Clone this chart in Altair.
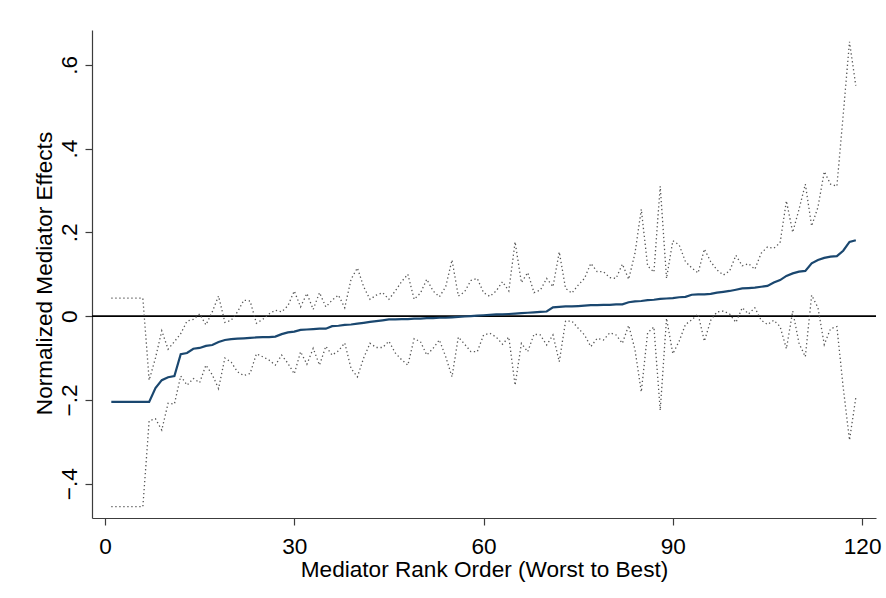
import altair as alt
import pandas as pd

# Mediators ranked from worst to best
rank = list(range(1, 120))

# Normalized mediator effect (point estimate)
effect = [
    -0.205, -0.205, -0.205, -0.205, -0.205, -0.205, -0.205, -0.172, -0.153, -0.146,
    -0.143, -0.091, -0.088, -0.078, -0.076, -0.071, -0.069, -0.062, -0.057, -0.055,
    -0.054, -0.053, -0.052, -0.051, -0.050, -0.050, -0.049, -0.043, -0.039, -0.037,
    -0.033, -0.032, -0.031, -0.030, -0.030, -0.024, -0.023, -0.021, -0.020, -0.018,
    -0.016, -0.014, -0.012, -0.010, -0.008, -0.008, -0.007, -0.007, -0.006, -0.006,
    -0.005, -0.005, -0.004, -0.004, -0.003, -0.002, -0.001, 0.000, 0.001, 0.002,
    0.003, 0.004, 0.004, 0.005, 0.006, 0.007, 0.008, 0.009, 0.010, 0.011,
    0.021, 0.022, 0.023, 0.023, 0.024, 0.025, 0.026, 0.026, 0.027, 0.027,
    0.028, 0.028, 0.033, 0.035, 0.036, 0.038, 0.039, 0.041, 0.042, 0.043,
    0.045, 0.046, 0.051, 0.052, 0.052, 0.053, 0.056, 0.058, 0.060, 0.063,
    0.066, 0.067, 0.068, 0.070, 0.072, 0.080, 0.086, 0.096, 0.102, 0.106,
    0.108, 0.126, 0.134, 0.139, 0.142, 0.143, 0.156, 0.177, 0.181,
]

# Upper confidence bound
upper = [
    0.043, 0.043, 0.043, 0.043, 0.043, 0.043, -0.153, -0.100, -0.035, -0.079,
    -0.061, -0.042, -0.012, -0.008, 0.005, -0.021, 0.010, 0.048, -0.015, -0.010,
    0.010, 0.038, 0.036, -0.017, -0.008, 0.005, 0.014, 0.010, 0.025, 0.060,
    0.022, 0.054, 0.016, 0.056, 0.022, 0.038, 0.050, 0.020, 0.088, 0.115,
    0.070, 0.040, 0.050, 0.056, 0.040, 0.060, 0.082, 0.100, 0.040, 0.055,
    0.088, 0.060, 0.046, 0.070, 0.134, 0.048, 0.058, 0.085, 0.090, 0.056,
    0.047, 0.060, 0.082, 0.060, 0.177, 0.080, 0.104, 0.056, 0.062, 0.090,
    0.070, 0.153, 0.066, 0.055, 0.074, 0.090, 0.126, 0.106, 0.106, 0.092,
    0.090, 0.124, 0.088, 0.150, 0.255, 0.120, 0.105, 0.310, 0.090, 0.180,
    0.170, 0.130, 0.115, 0.103, 0.160, 0.130, 0.110, 0.098, 0.108, 0.145,
    0.120, 0.125, 0.112, 0.150, 0.165, 0.162, 0.175, 0.275, 0.200, 0.255,
    0.315, 0.215, 0.260, 0.345, 0.315, 0.310, 0.480, 0.655, 0.550,
]

# Lower confidence bound
lower = [
    -0.455, -0.455, -0.455, -0.455, -0.455, -0.455, -0.250, -0.245, -0.272, -0.208,
    -0.210, -0.143, -0.165, -0.149, -0.159, -0.117, -0.140, -0.173, -0.100, -0.110,
    -0.133, -0.142, -0.137, -0.090, -0.097, -0.105, -0.117, -0.093, -0.113, -0.138,
    -0.085, -0.115, -0.077, -0.117, -0.072, -0.093, -0.083, -0.064, -0.125, -0.145,
    -0.100, -0.065, -0.075, -0.075, -0.060, -0.088, -0.104, -0.117, -0.054, -0.061,
    -0.093, -0.077, -0.057, -0.097, -0.145, -0.050, -0.067, -0.085, -0.085, -0.045,
    -0.041, -0.050, -0.067, -0.050, -0.165, -0.065, -0.085, -0.043, -0.045, -0.069,
    -0.045, -0.109, -0.012, -0.012, -0.029, -0.045, -0.073, -0.053, -0.057, -0.040,
    -0.045, -0.065, -0.022, -0.080, -0.181, -0.040, -0.026, -0.225, -0.005, -0.090,
    -0.060, -0.020, -0.009, 0.005, -0.060, -0.010, 0.010, 0.012, 0.005, -0.015,
    0.020, 0.005, 0.020, -0.010, -0.020, -0.010, -0.025, -0.078, 0.012, -0.065,
    -0.097, 0.050, 0.020, -0.068, -0.030, -0.025, -0.170, -0.296, -0.195,
]

x_ticks = [0, 30, 60, 90, 120]
y_ticks = [-0.4, -0.2, 0, 0.2, 0.4, 0.6]

df = pd.DataFrame({"rank": rank, "effect": effect, "upper": upper, "lower": lower})

FONT = "Liberation Sans"
FONT_SIZE = 22.6
AXIS_COLOR = "#3c3c3c"

x_scale = alt.Scale(domain=[-2.06, 122.2], nice=False, zero=False)
y_scale = alt.Scale(domain=[-0.482, 0.683], nice=False, zero=False)

x_axis = alt.Axis(
    values=x_ticks,
    title="Mediator Rank Order (Worst to Best)",
    grid=False,
    labelFlush=False,
    labelOverlap=False,
    tickSize=7,
    tickWidth=1.2,
    domainWidth=1.2,
    labelPadding=10,
    labelFontSize=FONT_SIZE,
    titleFontSize=FONT_SIZE,
    titleFontWeight="normal",
    titleX=392,
    titleY=58,
    titleAlign="center",
    titleBaseline="alphabetic",
)

y_axis = alt.Axis(
    values=y_ticks,
    labelExpr="datum.value == 0 ? '0' : replace(format(datum.value, '.1f'), '0.', '.')",
    title="Normalized Mediator Effects",
    grid=False,
    labelFlush=False,
    labelOverlap=False,
    labelAngle=270,
    labelAlign="center",
    labelBaseline="alphabetic",
    labelPadding=9,
    tickSize=7,
    tickWidth=1.2,
    domainWidth=1.2,
    labelFontSize=FONT_SIZE,
    titleFontSize=FONT_SIZE,
    titleFontWeight="normal",
    titleAngle=270,
    titleX=-41,
    titleY=243,
    titleAlign="center",
    titleBaseline="alphabetic",
)

x_enc = alt.X("rank:Q", scale=x_scale, axis=x_axis)

base = alt.Chart(df)

# Horizontal reference line at zero
zero_line = base.mark_rule(color="black", strokeWidth=1.6).encode(
    y=alt.Y("zero:Q", scale=y_scale, axis=y_axis)
).transform_aggregate(n="count()").transform_calculate(zero="0")

# Dotted confidence bounds
upper_line = base.mark_line(
    color="#555555", strokeWidth=1.3, strokeDash=[1.3, 2.7]
).encode(
    x=x_enc,
    y=alt.Y("upper:Q", scale=y_scale, axis=y_axis),
)

lower_line = base.mark_line(
    color="#555555", strokeWidth=1.3, strokeDash=[1.3, 2.7]
).encode(
    x=x_enc,
    y=alt.Y("lower:Q", scale=y_scale, axis=y_axis),
)

# Point estimates
effect_line = base.mark_line(color="#1a476f", strokeWidth=2.2).encode(
    x=x_enc,
    y=alt.Y("effect:Q", scale=y_scale, axis=y_axis),
)

chart = (
    alt.layer(zero_line, upper_line, lower_line, effect_line)
    .properties(
        width=784,
        height=488,
        autosize=alt.AutoSizeParams(type="none"),
        padding={"left": 92, "top": 30, "right": 10, "bottom": 80},
        background="white",
    )
    .configure_view(stroke=None)
    .configure_axis(
        labelFont=FONT,
        titleFont=FONT,
        labelColor="black",
        titleColor="black",
        domainColor=AXIS_COLOR,
        tickColor=AXIS_COLOR,
    )
)

chart.save("out.html", embed_options={"renderer": "svg", "actions": False})
